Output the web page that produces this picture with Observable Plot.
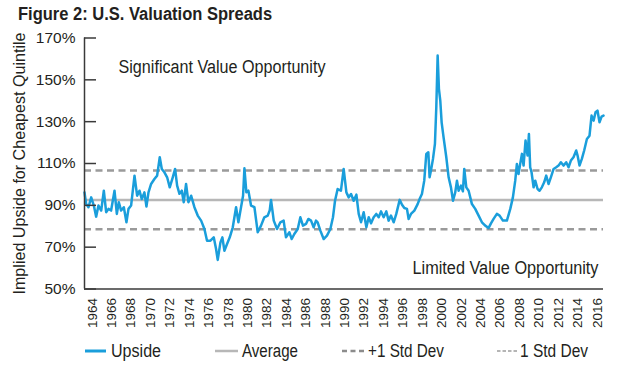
<!DOCTYPE html>
<html><head><meta charset="utf-8">
<script src="https://cdn.jsdelivr.net/npm/d3@7"></script>
<script src="https://cdn.jsdelivr.net/npm/@observablehq/plot@0.6"></script>
<style>
body{margin:0;width:640px;height:365px;background:#fff;position:relative;overflow:hidden;font-family:"Liberation Sans",Arial,sans-serif;color:#231f20;}
#title{position:absolute;left:18px;top:5px;font:bold 18px/18px "Liberation Sans",Arial,sans-serif;white-space:nowrap;transform:scaleX(0.917);transform-origin:0 0;}
#chart{position:absolute;left:0;top:30px;}
#legend{position:absolute;left:0;top:335px;}
</style></head><body>
<div id="title">Figure 2: U.S. Valuation Spreads</div>
<div id="chart"></div>
<div id="legend"></div>
<script>
const years = [1963.20,1963.37,1963.61,1963.89,1964.16,1964.40,1964.64,1964.92,1965.19,1965.43,1965.67,1965.94,1966.29,1966.53,1966.73,1966.97,1967.25,1967.52,1967.73,1968.00,1968.35,1968.62,1968.86,1969.10,1969.37,1969.58,1969.79,1970.06,1970.40,1970.68,1970.95,1971.16,1971.43,1971.71,1971.98,1972.29,1972.53,1972.74,1972.98,1973.22,1973.42,1973.66,1973.90,1974.18,1974.52,1974.86,1975.21,1975.55,1975.82,1976.17,1976.51,1976.75,1976.92,1977.20,1977.40,1977.61,1977.88,1978.16,1978.47,1978.81,1979.05,1979.32,1979.53,1979.67,1979.87,1980.08,1980.35,1980.70,1981.04,1981.38,1981.72,1982.07,1982.27,1982.41,1982.69,1983.03,1983.37,1983.71,1983.95,1984.30,1984.54,1984.81,1985.16,1985.43,1985.70,1986.01,1986.25,1986.53,1986.80,1987.04,1987.21,1987.49,1987.83,1988.17,1988.52,1988.79,1989.00,1989.27,1989.61,1989.89,1990.17,1990.41,1990.65,1990.92,1991.20,1991.44,1991.68,1991.95,1992.23,1992.47,1992.71,1992.98,1993.25,1993.50,1993.74,1994.01,1994.28,1994.52,1994.76,1995.04,1995.31,1995.66,1995.90,1996.14,1996.41,1996.58,1996.82,1997.17,1997.51,1997.71,1997.95,1998.19,1998.40,1998.61,1998.74,1998.88,1999.09,1999.29,1999.43,1999.57,1999.70,1999.84,1999.98,2000.18,2000.46,2000.70,2000.94,2001.15,2001.38,2001.56,2001.73,2001.97,2002.17,2002.31,2002.52,2002.76,2003.10,2003.44,2003.79,2004.13,2004.47,2004.82,2005.06,2005.33,2005.67,2005.95,2006.29,2006.70,2007.05,2007.32,2007.56,2007.73,2007.90,2008.07,2008.25,2008.42,2008.62,2008.83,2008.97,2009.10,2009.24,2009.45,2009.62,2009.86,2010.06,2010.30,2010.54,2010.75,2010.99,2011.23,2011.51,2011.78,2012.02,2012.26,2012.53,2012.81,2013.05,2013.29,2013.56,2013.84,2013.98,2014.18,2014.42,2014.66,2014.94,2015.21,2015.42,2015.63,2015.83,2016.03,2016.24,2016.45,2016.65];
const upside = [96.2,90.7,89.1,93.8,89.9,84.6,89.9,87.5,97.0,86.7,88.3,87.5,97.0,85.9,91.5,87.5,89.1,81.9,88.3,89.9,104.2,94.6,97.0,93.0,96.2,89.4,96.2,100.2,102.6,104.2,113.0,107.4,105.8,103.4,98.6,103.4,107.4,99.4,95.5,97.0,91.5,100.2,91.5,94.6,89.1,85.1,82.7,78.7,73.1,73.1,74.7,69.1,63.9,72.3,74.7,68.3,71.5,74.7,79.5,89.1,81.9,89.1,94.6,107.7,96.2,97.0,89.9,89.1,77.1,80.3,84.3,85.1,87.5,92.6,82.7,78.7,81.9,82.7,74.7,77.1,73.9,76.3,78.7,84.3,80.3,81.1,83.5,82.7,79.5,82.7,81.9,77.9,73.9,75.5,78.7,84.3,92.2,97.8,97.0,107.4,96.2,93.8,95.4,92.2,95.1,85.9,81.9,86.7,79.5,84.3,81.4,84.3,85.9,84.3,87.1,84.3,87.1,82.7,85.1,81.9,85.9,92.6,90.3,88.7,88.3,83.5,85.9,87.5,90.6,93.0,95.4,101.8,114.6,115.4,103.4,106.6,112.2,119.4,136.9,161.6,145.7,140.1,129.7,122.5,113.0,103.4,98.6,92.2,96.2,101.8,97.0,99.4,96.7,107.4,98.6,97.0,90.6,88.3,85.1,81.9,80.3,79.2,81.4,83.5,85.9,85.1,82.7,82.7,88.3,93.8,101.8,109.8,105.0,109.8,114.6,109.0,121.0,113.8,124.1,108.2,105.8,98.6,101.8,97.8,97.0,98.6,101.0,104.2,100.2,103.4,107.4,108.2,109.0,110.6,109.0,110.6,108.2,111.4,113.0,116.2,113.8,109.0,112.2,116.2,121.7,123.3,132.9,130.5,134.5,135.3,129.7,132.4,132.9];
const averageLevel = [92.6];
const stdDevLevels = [106.6, 78.6];
const yTicks = [50, 70, 90, 110, 130, 150, 170];
const xTicks = [1964,1966,1968,1970,1972,1974,1976,1978,1980,1982,1984,1986,1988,1990,1992,1994,1996,1998,2000,2002,2004,2006,2008,2010,2012,2014,2016];
const seriesNames = ["Upside", "Average", "+1 Std Dev", "1 Std Dev"];
const yLabel = ["Implied Upside for Cheapest Quintile"];
const topNote = ["Significant Value Opportunity"];
const bottomNote = ["Limited Value Opportunity"];

const data = years.map((y, i) => ({year: y, value: upside[i]}));
const blue = "#1a9edb";
const W = 640, H = 305, mL = 84, mR = 37, mT = 7.5, mB = 46.5;

const chart = Plot.plot({
  width: W,
  height: H,
  marginLeft: mL,
  marginRight: mR,
  marginTop: mT,
  marginBottom: mB,
  style: {fontFamily: '"Liberation Sans",Arial,sans-serif', color: "#231f20", background: "white"},
  x: {domain: [years[0], years[years.length - 1]]},
  y: {domain: [yTicks[0], yTicks[yTicks.length - 1]]},
  marks: [
    Plot.ruleY(averageLevel, {stroke: "#b7b7b7", strokeWidth: 2.5}),
    Plot.ruleY(stdDevLevels, {stroke: "#9a9a9a", strokeWidth: 2.5, strokeDasharray: "7,4.5"}),
    Plot.line(data, {x: "year", y: "value", stroke: blue, strokeWidth: 2.5, strokeLinejoin: "round"}),
    Plot.ruleX([years[0]], {stroke: "#3a3a3a", strokeWidth: 1.5}),
    Plot.ruleY([yTicks[0]], {stroke: "#3a3a3a", strokeWidth: 1.5}),
    Plot.tickY(yTicks, {y: d => d, stroke: "#3a3a3a", strokeWidth: 1.5, insetRight: (W - mL - mR) - 12}),
    Plot.axisY({ticks: yTicks, tickSize: 0, tickPadding: 9, label: null, tickFormat: d => d + "%", fontSize: 15.5, fill: "#231f20"}),
    Plot.axisX({ticks: xTicks, tickSize: 0, tickRotate: -90, tickPadding: 9, label: null, tickFormat: d => String(d), fontSize: 13.5, fill: "#231f20"}),
    Plot.text(yLabel, {frameAnchor: "left", textAnchor: "middle", lineAnchor: "middle", rotate: -90, dx: -65, fontSize: 16, fill: "#231f20"}),
    Plot.text(topNote, {frameAnchor: "top-left", textAnchor: "start", lineAnchor: "middle", dx: 34, dy: 29.5, fontSize: 18, fill: "#231f20"}),
    Plot.text(bottomNote, {frameAnchor: "bottom-right", textAnchor: "end", lineAnchor: "middle", dx: -5, dy: -20.5, fontSize: 18, fill: "#231f20"})
  ]
});
document.getElementById("chart").appendChild(chart);
// condense texts to the reference widths
d3.select(chart).selectAll("text").each(function() {
  const t = this.textContent;
  const widths = {[topNote[0]]: 207, [bottomNote[0]]: 186, [yLabel[0]]: 262};
  if (widths[t]) { this.setAttribute("textLength", widths[t]); this.setAttribute("lengthAdjust", "spacingAndGlyphs"); }
});

// legend
const legendSpec = [
  {name: seriesNames[0], x0: 85, x1: 106, tx: 111, tw: 50, stroke: blue, width: 3, dash: null},
  {name: seriesNames[1], x0: 215, x1: 238, tx: 242, tw: 56, stroke: "#b7b7b7", width: 2.5, dash: null},
  {name: seriesNames[2], x0: 342, x1: 366, tx: 368, tw: 76, stroke: "#8c8c8c", width: 2.5, dash: "5,3.5"},
  {name: seriesNames[3], x0: 497, x1: 518, tx: 520, tw: 68, stroke: "#b5b5b5", width: 2, dash: "3.5,2"}
];
const svg = d3.select("#legend").append("svg").attr("width", 640).attr("height", 30);
for (const s of legendSpec) {
  svg.append("line").attr("x1", s.x0).attr("x2", s.x1).attr("y1", 16).attr("y2", 16)
    .attr("stroke", s.stroke).attr("stroke-width", s.width).attr("stroke-dasharray", s.dash);
  svg.append("text").attr("x", s.tx).attr("y", 16).attr("dy", "0.35em")
    .attr("font-size", 18).attr("font-family", '"Liberation Sans",Arial,sans-serif').attr("fill", "#231f20")
    .attr("textLength", s.tw).attr("lengthAdjust", "spacingAndGlyphs").text(s.name);
}
</script>
</body></html>
